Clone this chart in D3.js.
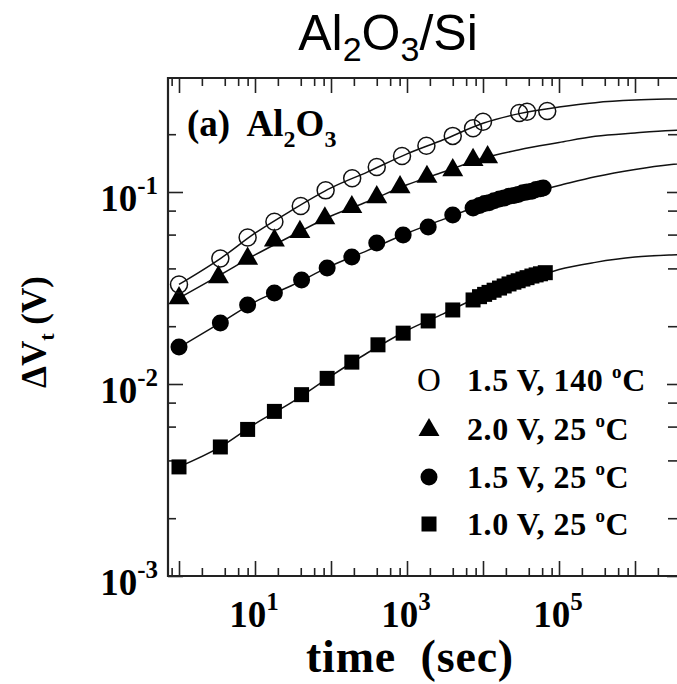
<!DOCTYPE html>
<html>
<head>
<meta charset="utf-8">
<script src="https://cdn.jsdelivr.net/npm/d3@7"></script>
<style>
  body { margin: 0; background: #fff; overflow: hidden; }
  svg { display: block; }
</style>
</head>
<body>
<svg id="chart" width="677" height="684"></svg>
<script>
// ---- data ----
// open circles: 1.5 V, 140 C
var t140 = [1, 3.5, 8, 18, 40, 85, 190, 400, 860, 1800, 4000, 7400, 10000, 30000, 38000, 70000];
var v140 = [0.033, 0.045, 0.058, 0.070, 0.0845, 0.102, 0.118, 0.135, 0.154, 0.174, 0.196, 0.215, 0.232, 0.258, 0.262, 0.264];
// triangles: 2.0 V, 25 C
var t20 = [1, 3.3, 8, 18, 39, 83, 188, 400, 810, 1830, 4000, 7400, 11500];
var v20 = [0.028, 0.036, 0.045, 0.056, 0.062, 0.073, 0.0835, 0.094, 0.106, 0.120, 0.130, 0.147, 0.152];
// filled circles: 1.5 V, 25 C
var t15 = [1, 3.5, 8, 18, 41, 89, 188, 400, 890, 1900, 4000, 7400, 9000, 10500, 12000, 14000, 16500, 19000, 22000, 25500, 29000, 33500, 38000, 44000, 50000, 57000, 62000];
var v15 = [0.0156, 0.0208, 0.0258, 0.0298, 0.0348, 0.0402, 0.0459, 0.0542, 0.0597, 0.0658, 0.0759, 0.0826, 0.085, 0.087, 0.088, 0.090, 0.092, 0.093, 0.095, 0.096, 0.097, 0.099, 0.100, 0.101, 0.103, 0.104, 0.105];
// squares: 1.0 V, 25 C
var t10 = [1, 3.5, 8, 18, 41, 89, 188, 415, 890, 1900, 4000, 7400, 9000, 10500, 12000, 14000, 16500, 19000, 22000, 25500, 29000, 33500, 38000, 44000, 50000, 57000, 66000];
var v10 = [0.0037, 0.0047, 0.0058, 0.0072, 0.0088, 0.0107, 0.0130, 0.0160, 0.0184, 0.0213, 0.0243, 0.0274, 0.0285, 0.0293, 0.0300, 0.0308, 0.0316, 0.0324, 0.0332, 0.0339, 0.0345, 0.0352, 0.0358, 0.0365, 0.0370, 0.0375, 0.0380];

// fitted curves, read at these times
var fitT    = [1, 3.5, 10, 30, 100, 300, 1000, 3000, 1e4, 3e4, 1e5, 3e5, 1e6, 3e6, 7e6];
var fit140  = [0.033, 0.045, 0.061, 0.080, 0.105, 0.127, 0.158, 0.187, 0.228, 0.256, 0.277, 0.292, 0.301, 0.305, 0.307];
var fit20   = [0.028, 0.037, 0.047, 0.059, 0.075, 0.089, 0.109, 0.127, 0.150, 0.166, 0.181, 0.195, 0.203, 0.209, 0.211];
var fit15   = [0.0155, 0.0208, 0.0268, 0.0325, 0.0412, 0.0495, 0.061, 0.072, 0.086, 0.096, 0.108, 0.120, 0.131, 0.139, 0.143];
var fit10   = [0.0037, 0.0047, 0.0062, 0.0080, 0.0110, 0.0145, 0.0190, 0.0232, 0.0290, 0.0335, 0.0395, 0.0430, 0.0458, 0.0470, 0.0475];

// axes
var xMajor = [1, 10, 100, 1000, 10000, 100000, 1000000];
var xLabelExp = [1, 3, 5];
var yMajor = [0.001, 0.01, 0.1];
var yLabelExp = [-3, -2, -1];
var minorMult = [2, 4, 6, 8];
var legendText = ["1.5 V, 140 ", "2.0 V, 25 ", "1.5 V, 25 ", "1.0 V, 25 "];

var svg = d3.select("#chart");
var frame = {left: 168, top: 78, right: 680, bottom: 576};

var x = d3.scaleLog().domain([1, 1e6]).range([179, 635]);
var y = d3.scaleLog().domain([1e-3, 1e-1]).range([576, 192]);

var xLo = x.invert(frame.left), xHi = x.invert(frame.right);
var yLo = y.invert(frame.bottom), yHi = y.invert(frame.top);

function minors(lo, hi){
    var out = [];
    for (var k = -4; k <= 7; k++) {
        minorMult.forEach(function(m){
            var v = m * Math.pow(10, k);
            if (v >= lo && v <= hi) out.push(v);
        });
    }
    return out;
}
var xMinor = minors(xLo, xHi);
var yMinor = minors(yLo * 0.999, yHi);

var serif = "'Liberation Serif', 'Times New Roman', serif";
var sans = "'Liberation Sans', Arial, sans-serif";

function tickAxis(axisFn, scale, values, size, tr){
    svg.append("g").attr("transform", tr)
        .call(axisFn(scale).tickValues(values).tickSizeInner(-size).tickSizeOuter(0).tickFormat(""))
        .call(function(g){ g.select(".domain").remove(); })
        .selectAll("line").attr("stroke", "#222").attr("stroke-width", 1.6);
}
tickAxis(d3.axisBottom, x, xMajor, 15, `translate(0,${frame.bottom})`);
tickAxis(d3.axisBottom, x, xMinor, 8, `translate(0,${frame.bottom})`);
tickAxis(d3.axisTop, x, xMajor, 15, `translate(0,${frame.top})`);
tickAxis(d3.axisTop, x, xMinor, 8, `translate(0,${frame.top})`);
tickAxis(d3.axisLeft, y, yMajor, 15, `translate(${frame.left},0)`);
tickAxis(d3.axisLeft, y, yMinor, 8, `translate(${frame.left},0)`);
tickAxis(d3.axisRight, y, yMajor, 13, `translate(${frame.right},0)`);
tickAxis(d3.axisRight, y, yMinor, 12, `translate(${frame.right},0)`);

// frame: the right side falls just past the picture edge
svg.append("path")
    .attr("d", `M${frame.right},${frame.top}H${frame.left}V${frame.bottom}H${frame.right}`)
    .attr("fill", "none").attr("stroke", "#222").attr("stroke-width", 2.2);

// tick labels
yLabelExp.forEach(function(e){
    var t = svg.append("text")
        .attr("x", 158).attr("y", y(Math.pow(10, e)) + 19)
        .attr("text-anchor", "end")
        .style("font-family", serif).style("font-weight", "bold").style("font-size", "37px");
    t.append("tspan").text("10");
    t.append("tspan").attr("dy", -17).style("font-size", "25px").text(e);
});
xLabelExp.forEach(function(e){
    var t = svg.append("text")
        .attr("x", x(Math.pow(10, e)) - 1).attr("y", 627)
        .attr("text-anchor", "middle")
        .style("font-family", serif).style("font-weight", "bold").style("font-size", "37px");
    t.append("tspan").text("10");
    t.append("tspan").attr("dy", -17).style("font-size", "25px").text(e);
});

// axis titles
svg.append("text")
    .attr("x", 410).attr("y", 672).attr("text-anchor", "middle")
    .style("font-family", serif).style("font-weight", "bold").style("font-size", "46px")
    .style("letter-spacing", "0.8px")
    .style("white-space", "pre")
    .text("time  (sec)");

var yt = svg.append("text")
    .attr("transform", "translate(46,332) rotate(-90)")
    .attr("text-anchor", "middle")
    .style("font-family", serif).style("font-weight", "bold").style("font-size", "35px");
yt.append("tspan").text("\u0394V");
yt.append("tspan").attr("dy", 8).style("font-size", "22px").text("t");
yt.append("tspan").attr("dy", -8).style("white-space", "pre").text(" (V)");

// title
var tt = svg.append("text")
    .attr("x", 388).attr("y", 50).attr("text-anchor", "middle")
    .style("font-family", sans).style("font-size", "50px");
tt.append("tspan").text("Al");
tt.append("tspan").attr("dy", 11).style("font-size", "34px").text("2");
tt.append("tspan").attr("dy", -11).text("O");
tt.append("tspan").attr("dy", 11).style("font-size", "34px").text("3");
tt.append("tspan").attr("dy", -11).text("/Si");

// panel label
var pl = svg.append("text")
    .attr("x", 187).attr("y", 136)
    .style("font-family", serif).style("font-weight", "bold").style("font-size", "37px")
    .style("white-space", "pre");
pl.append("tspan").text("(a)  Al");
pl.append("tspan").attr("dy", 11).style("font-size", "24px").text("2");
pl.append("tspan").attr("dy", -11).text("O");
pl.append("tspan").attr("dy", 11).style("font-size", "24px").text("3");

// fit curves
var line = d3.line()
    .x(function(d){ return x(d[0]); })
    .y(function(d){ return y(d[1]); })
    .curve(d3.curveMonotoneX);
[fit140, fit20, fit15, fit10].forEach(function(fv){
    svg.append("path")
        .datum(fitT.map(function(t, i){ return [t, fv[i]]; }))
        .attr("d", line)
        .attr("fill", "none").attr("stroke", "#111").attr("stroke-width", 1.5);
});

function pairs(ts, vs){ return ts.map(function(t, i){ return [t, vs[i]]; }); }

// markers
svg.append("g").selectAll("rect")
    .data(pairs(t10, v10)).enter().append("rect")
    .attr("x", function(d){ return x(d[0]) - 7.5; })
    .attr("y", function(d){ return y(d[1]) - 7.5; })
    .attr("width", 15).attr("height", 15).attr("fill", "#000");

svg.append("g").selectAll("circle")
    .data(pairs(t15, v15)).enter().append("circle")
    .attr("cx", function(d){ return x(d[0]); })
    .attr("cy", function(d){ return y(d[1]); })
    .attr("r", 8.5).attr("fill", "#000");

var tri = d3.symbol().type(d3.symbolTriangle).size(190);
svg.append("g").selectAll("path")
    .data(pairs(t20, v20)).enter().append("path")
    .attr("d", tri)
    .attr("transform", function(d){ return `translate(${x(d[0])},${y(d[1])})`; })
    .attr("fill", "#000");

svg.append("g").selectAll("circle")
    .data(pairs(t140, v140)).enter().append("circle")
    .attr("cx", function(d){ return x(d[0]); })
    .attr("cy", function(d){ return y(d[1]); })
    .attr("r", 8.5).attr("fill", "none").attr("stroke", "#111").attr("stroke-width", 1.5);

// legend
var legY = [380, 429, 477, 524];
var legX = 429, legTextX = 467;
svg.append("text").attr("x", legX).attr("y", legY[0] + 11).attr("text-anchor", "middle")
    .style("font-family", serif).style("font-size", "33px").text("O");
svg.append("path").attr("d", tri).attr("transform", `translate(${legX},${legY[1] + 1})`).attr("fill", "#000");
svg.append("circle").attr("cx", legX).attr("cy", legY[2]).attr("r", 8.5).attr("fill", "#000");
svg.append("rect").attr("x", legX - 7.5).attr("y", legY[3] - 7.5).attr("width", 15).attr("height", 15).attr("fill", "#000");

legendText.forEach(function(s, i){
    var t = svg.append("text")
        .attr("x", legTextX).attr("y", legY[i] + 11)
        .style("font-family", serif).style("font-weight", "bold").style("font-size", "32px")
        .style("letter-spacing", "0.6px")
        .style("white-space", "pre");
    t.append("tspan").text(s);
    t.append("tspan").attr("dy", -13).style("font-size", "19px").text("o");
    t.append("tspan").attr("dy", 13).text("C");
});
</script>
</body>
</html>
